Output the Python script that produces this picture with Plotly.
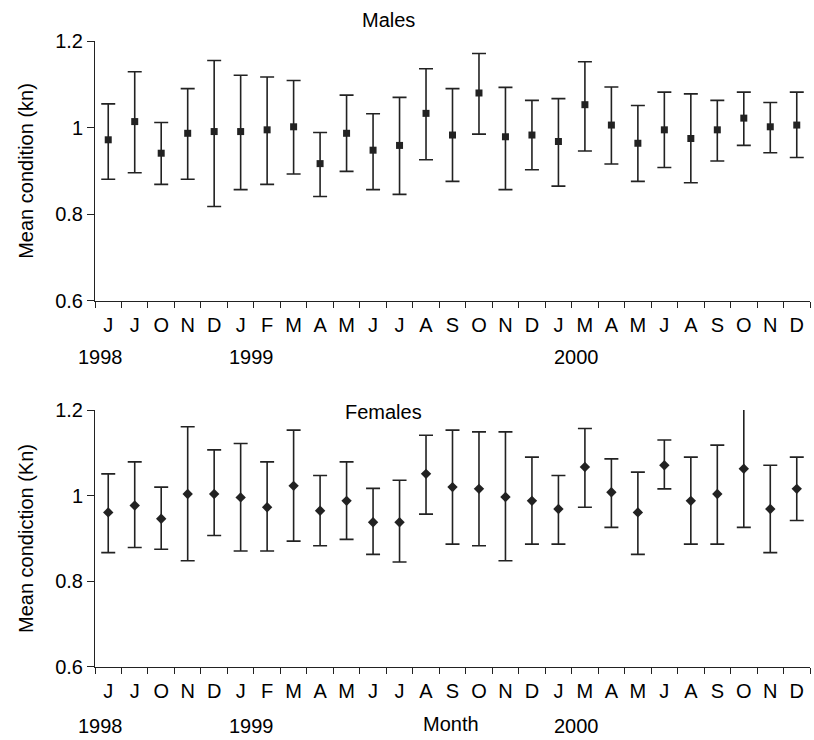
import numpy as np
import plotly.graph_objects as go

months = ["J", "J", "O", "N", "D",
          "J", "F", "M", "A", "M", "J", "J", "A", "S", "O", "N", "D",
          "J", "M", "A", "M", "J", "A", "S", "O", "N", "D"]
years = ["1998", "1999", "2000"]
y_ticks = [0.6, 0.8, 1.0, 1.2]
y_tick_labels = ["0.6", "0.8", "1", "1.2"]

male_mean = [0.972, 1.014, 0.941, 0.987, 0.991, 0.991, 0.995, 1.002, 0.917, 0.987, 0.948, 0.959,
             1.033, 0.983, 1.080, 0.979, 0.983, 0.968, 1.053, 1.006, 0.964, 0.995, 0.975, 0.995,
             1.022, 1.002, 1.006]
male_upper = [1.055, 1.129, 1.012, 1.090, 1.155, 1.121, 1.117, 1.109, 0.989, 1.075, 1.032, 1.070,
              1.136, 1.090, 1.171, 1.093, 1.063, 1.067, 1.152, 1.094, 1.051, 1.082, 1.078, 1.063,
              1.082, 1.058, 1.082]
male_lower = [0.881, 0.896, 0.869, 0.881, 0.818, 0.857, 0.869, 0.893, 0.841, 0.899, 0.857, 0.846,
              0.926, 0.876, 0.985, 0.857, 0.903, 0.865, 0.946, 0.916, 0.876, 0.908, 0.873, 0.923,
              0.959, 0.942, 0.931]

female_mean = [0.961, 0.977, 0.946, 1.004, 1.004, 0.996, 0.973, 1.023, 0.965, 0.988, 0.938, 0.938,
               1.051, 1.020, 1.016, 0.997, 0.988, 0.969, 1.067, 1.008, 0.961, 1.071, 0.988, 1.004,
               1.063, 0.969, 1.016]
female_upper = [1.051, 1.079, 1.020, 1.161, 1.107, 1.122, 1.079, 1.153, 1.047, 1.079, 1.017, 1.036,
                1.141, 1.153, 1.149, 1.149, 1.090, 1.047, 1.157, 1.086, 1.055, 1.130, 1.090, 1.118,
                1.204, 1.071, 1.090]
female_lower = [0.867, 0.879, 0.875, 0.848, 0.907, 0.871, 0.871, 0.894, 0.883, 0.898, 0.863, 0.845,
                0.957, 0.887, 0.883, 0.848, 0.887, 0.887, 0.973, 0.926, 0.863, 1.016, 0.887, 0.887,
                0.926, 0.867, 0.942]

FONT = "Liberation Sans, Arial, Helvetica, sans-serif"
INK = "#222222"
x = np.arange(len(months))

def err(mean, upper, lower):
    m = np.array(mean)
    return dict(type="data", symmetric=False,
                array=(np.array(upper) - m).tolist(),
                arrayminus=(m - np.array(lower)).tolist(),
                color=INK, thickness=1.6, width=7)

fig = go.Figure()
fig.add_trace(go.Scatter(x=x, y=male_mean, mode="markers", xaxis="x", yaxis="y",
                         marker=dict(symbol="square", size=7, color=INK),
                         error_y=err(male_mean, male_upper, male_lower),
                         showlegend=False, name="Males", cliponaxis=False))
fig.add_trace(go.Scatter(x=x, y=female_mean, mode="markers", xaxis="x2", yaxis="y2",
                         marker=dict(symbol="diamond", size=8, color=INK),
                         error_y=err(female_mean, female_upper, female_lower),
                         showlegend=False, name="Females", cliponaxis=False))

boundaries = (np.arange(len(months) + 1) - 0.5).tolist()
xcommon = dict(range=[-0.5, len(months) - 0.5], tickmode="array", tickvals=x.tolist(),
               ticktext=months, ticks="", showline=True, linecolor=INK, linewidth=1,
               showgrid=False, zeroline=False, ticklabelstandoff=6, automargin=False,
               tickfont=dict(size=20, color="black", family=FONT),
               minor=dict(tickmode="array", tickvals=boundaries, ticks="outside",
                          ticklen=6, tickcolor=INK, tickwidth=1, showgrid=False))
ycommon = dict(range=[0.6, 1.2], tickmode="array", tickvals=y_ticks, ticktext=y_tick_labels,
               ticks="outside", ticklen=7, tickcolor=INK, showline=True, linecolor=INK,
               linewidth=1, showgrid=False, zeroline=False, automargin=False,
               tickfont=dict(size=20, color="black", family=FONT))

fig.update_layout(
    width=814, height=740,
    margin=dict(l=95, r=4, t=41, b=73),
    paper_bgcolor="white", plot_bgcolor="white",
    font=dict(family=FONT, size=20, color="black"),
    xaxis=dict(**xcommon, anchor="y"),
    yaxis=dict(**ycommon, domain=[0.5847, 1.0], anchor="x",
               title=dict(text="Mean condition (kn)", standoff=16,
                          font=dict(size=20, family=FONT))),
    xaxis2=dict(**xcommon, anchor="y2"),
    yaxis2=dict(**ycommon, domain=[0.0, 0.4105], anchor="x2",
                title=dict(text="Mean condiction (Kn)", standoff=16,
                           font=dict(size=20, family=FONT))),
)

ann = []
ann.append(dict(text="Males", xref="paper", yref="paper", x=0.41, y=(667 - 20) / 626,
                showarrow=False, font=dict(size=20, family=FONT), xanchor="center", yanchor="middle"))
ann.append(dict(text="Females", xref="paper", yref="paper", x=0.403, y=(667 - 412) / 626,
                showarrow=False, font=dict(size=20, family=FONT), xanchor="center", yanchor="middle"))
year_x = [-0.3, 5.4, 17.7]
for yr, xv in zip(years, year_x):
    ann.append(dict(text=yr, xref="x", yref="paper", x=xv, y=(667 - 357) / 626,
                    showarrow=False, font=dict(size=20, family=FONT), yanchor="middle"))
    ann.append(dict(text=yr, xref="x2", yref="paper", x=xv, y=(667 - 726) / 626,
                    showarrow=False, font=dict(size=20, family=FONT), yanchor="middle"))
ann.append(dict(text="Month", xref="x2", yref="paper", x=12.95, y=(667 - 724) / 626,
                showarrow=False, font=dict(size=20, family=FONT), yanchor="middle"))
fig.update_layout(annotations=ann)

fig.write_html("out.html", config={"displayModeBar": False},
               post_script="document.body.style.margin='0';document.body.style.overflow='hidden';")
